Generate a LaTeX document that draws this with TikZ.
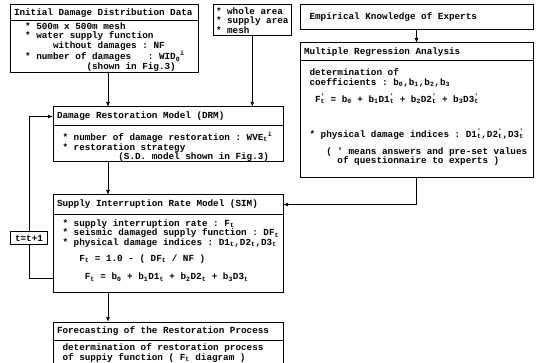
\documentclass[tikz,border=0pt]{standalone}
\usepackage{fontspec}
\setmonofont{Liberation Mono}
\usetikzlibrary{positioning,arrows.meta}
% fixed pitch blank, one character wide
\def~{\leavevmode\hbox to 0.6em{}}
\newcommand\sbt{\textsubscript{t}}
\newcommand\prt{\rlap{\textsuperscript{'}}\textsubscript{t}}
\tikzset{
  font={\ttfamily\bfseries\fontsize{9.3pt}{9.3pt}\selectfont},
  box/.style={draw, line width=1pt, outer sep=0pt, anchor=north west,
    inner xsep=4pt, inner ysep=0pt, align=left},
  hd/.style={box, minimum height=#1},
  bd/.style={box, minimum height=#1},
  link/.style={line width=1pt, -{Latex[length=5pt,width=4pt]}}}

\begin{document}
\begin{tikzpicture}[x=1pt,y=-1pt]
\useasboundingbox (0,0) rectangle (537,363);
\coordinate (col) at (108,0);
% top row
\node[hd=16pt, text width=180pt] (inith) at (10,5) {Initial~Damage~Distribution~Data};
\node[bd=52pt, text width=180pt, below=0pt of inith] (init) {%
~~*~500m~x~500m~mesh\\
~~*~water~supply~function\\
~~~~~~~without~damages~:~NF\\
~~*~number~of~damages~~~:~WID\textsubscript{0}\textsuperscript{i}\\
~~~~~~~~~~~~~(shown~in~Fig.3)};
\node[box, inner xsep=3pt, minimum height=31pt] (area) at (213,5) {%
*~whole~area\\*~supply~area\\*~mesh};
\node[hd=25pt, text width=225pt] (expert) at (300,5) {~Empirical~Knowledge~of~Experts};
\node[hd=18pt, text width=225pt] (mrah) at (300,43) {Multiple~Regression~Analysis};
\node[bd=117pt, text width=225pt, below=0pt of mrah] (mra) {%
~determination~of\\
~coefficients~:~b\textsubscript{0},b\textsubscript{1},b\textsubscript{2},b\textsubscript{3}\\[6pt]
~~F\prt~=~b\textsubscript{0}~+~b\textsubscript{1}D1\prt~+~b\textsubscript{2}D2\prt~+~b\textsubscript{3}D3\prt\\[24pt]
~*~physical~damage~indices~:~D1\prt,D2\prt,D3\prt\\[8pt]
~~~~(~'~means~answers~and~pre-set~values\\
~~~~~~of~questionnaire~to~experts~)\\[-3pt]\mbox{}};
% models
\node[hd=19pt, text width=222pt] (drmh) at (53,107) {Damage~Restoration~Model~(DRM)};
\node[bd=36pt, text width=222pt, below=0pt of drmh] (drm) {%
~\rule{0pt}{14pt}*~number~of~damage~restoration~:~WVE\sbt\textsuperscript{i}\\
~*~restoration~strategy\\
~~~~~~~~~~~(S.D.~model~shown~in~Fig.3)};
\node[hd=19pt, text width=222pt] (simh) at (53,195) {Supply~Interruption~Rate~Model~(SIM)};
\node[bd=78pt, text width=222pt, below=0pt of simh] (sim) {%
~*~supply~interruption~rate~:~F\sbt\\
~*~seismic~damaged~supply~function~:~DF\sbt\\
~*~physical~damage~indices~:~D1\sbt,D2\sbt,D3\sbt\\[7pt]
~~~~F\sbt~=~1.0~-~(~DF\sbt~/~NF~)\\[9pt]
~~~~~F\sbt~=~b\textsubscript{0}~+~b\textsubscript{1}D1\sbt~+~b\textsubscript{2}D2\sbt~+~b\textsubscript{3}D3\sbt\\[-3pt]\mbox{}};
\node[hd=18pt, text width=222pt] (fch) at (53,322) {Forecasting~of~the~Restoration~Process};
\node[bd=26pt, text width=222pt, below=0pt of fch] (fc) {%
~determination~of~restoration~process\\
~of~suppiy~function~(~F\sbt~diagram~)};
\node[draw, line width=1pt, inner xsep=5pt, inner ysep=3pt, fill=white] (inc) at (29,238) {t=t+1};
% connectors
\draw[link] (init.south -| col) -- (drmh.north -| col);
\draw[link] (area.south) -- (area.south |- drmh.north);
\draw[link] (expert.south) -- (mrah.north);
\draw[link] (mra.south) |- (simh.east);
\draw[link] (drm.south -| col) -- (simh.north -| col);
\draw[link] (sim.south -| col) -- (fch.north -| col);
\draw[line width=1pt] ([yshift=14pt]sim.south west) -| (inc.south);
\draw[link] (inc.north) |- (drmh.west);
\end{tikzpicture}
\end{document}
